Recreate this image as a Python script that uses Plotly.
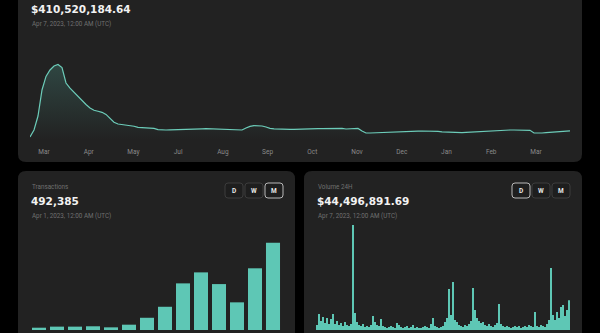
import plotly.graph_objects as go

W, H = 600, 333

# ---------------- data ----------------
tvl_header = "$410,520,184.64"
tvl_date = "Apr 7, 2023, 12:00 AM (UTC)"
tvl_month_labels = ["Mar", "Apr", "May", "Jul", "Aug", "Sep", "Oct", "Nov", "Dec", "Jan", "Feb", "Mar"]
tvl_values_musd = [
    135, 450, 1080, 2250, 2860, 3150, 3330, 3400, 3260, 2565,
    2330, 2140, 1935, 1755, 1600, 1440, 1340, 1295, 1245, 1150,
    975, 800, 720, 700, 675, 650, 620, 565, 555, 555,
    540, 520, 470, 450, 450, 455, 465, 475, 475, 480,
    485, 490, 495, 505, 510, 505, 495, 490, 485, 480,
    475, 465, 460, 450, 540, 615, 645, 640, 630, 585,
    525, 505, 490, 480, 480, 475, 480, 480, 485, 495,
    500, 505, 510, 515, 520, 520, 520, 525, 520, 495,
    495, 510, 520, 405, 315, 315, 325, 335, 340, 350,
    355, 360, 360, 370, 380, 385, 395, 400, 405, 405,
    405, 400, 385, 370, 360, 345, 340, 335, 330, 340,
    350, 360, 370, 380, 390, 405, 430, 445, 450, 450,
    450, 450, 450, 445, 440, 435, 315, 305, 315, 335,
    345, 360, 380, 395, 405, 410.5,
]

tx_title = "Transactions"
tx_header = "492,385"
tx_date = "Apr 1, 2023, 12:00 AM (UTC)"
tx_monthly = [13000, 19000, 19000, 21000, 15000, 30000, 69000,
              131000, 263000, 325000, 259000, 156000, 348000, 492385]

vol_title = "Volume 24H"
vol_header = "$44,496,891.69"
vol_date = "Apr 7, 2023, 12:00 AM (UTC)"
vol_musd = [
    7.5, 24, 13.5, 19.5, 10.5, 18, 9, 16.5, 24, 9,
    13.5, 7.5, 10.5, 6, 12, 7.5, 6, 9, 157.5, 25.5,
    12, 7.5, 6, 9, 4.5, 6, 4.5, 7.5, 21, 12,
    7.5, 6, 16.5, 6, 4.5, 3, 4.5, 6, 4.5, 3,
    10.5, 7.5, 4.5, 3, 4.5, 6, 3, 4.5, 7.5, 3,
    4.5, 3, 3, 4.5, 6, 4.5, 3, 9, 18, 6,
    4.5, 3, 4.5, 6, 12, 18, 61.5, 22.5, 72, 15,
    12, 7.5, 6, 4.5, 7.5, 6, 9, 13.5, 63, 30,
    18, 13.5, 10.5, 12, 7.5, 6, 9, 6, 4.5, 7.5,
    10.5, 39, 9, 6, 4.5, 6, 4.5, 3, 4.5, 6,
    4.5, 6, 3, 4.5, 6, 4.5, 7.5, 6, 4.5, 27,
    6, 4.5, 7.5, 6, 4.5, 9, 15, 93, 22.5, 15,
    27, 18, 34.5, 37.5, 21, 30, 44.5,
]
button_labels = ["D", "W", "M"]

# ---------------- helpers ----------------
def px(x):
    return x / W

def py(y):
    return 1 - y / H

def rrect(x0, y0, x1, y1, r):
    rx, ry = r, r
    pts = [
        f"M {px(x0 + rx)} {py(y0)}",
        f"L {px(x1 - rx)} {py(y0)}",
        f"Q {px(x1)} {py(y0)} {px(x1)} {py(y0 + ry)}",
        f"L {px(x1)} {py(y1 - ry)}",
        f"Q {px(x1)} {py(y1)} {px(x1 - rx)} {py(y1)}",
        f"L {px(x0 + rx)} {py(y1)}",
        f"Q {px(x0)} {py(y1)} {px(x0)} {py(y1 - ry)}",
        f"L {px(x0)} {py(y0 + ry)}",
        f"Q {px(x0)} {py(y0)} {px(x0 + rx)} {py(y0)}",
        "Z",
    ]
    return " ".join(pts)

TEAL = "#5ec7b5"
LINE = "#6cccb9"
PANEL = "#222222"
BG = "#000000"
GREY = "#707070"
FONT = "Roboto"
BOLD = "DejaVu Sans"

fig = go.Figure()

# TVL line
n = len(tvl_values_musd)
fig.add_trace(go.Scatter(
    x=list(range(n)), y=tvl_values_musd, mode="lines",
    line=dict(color=LINE, width=1.2),
    fill="tozeroy",
    fillgradient=dict(type="vertical",
                      colorscale=[[0, "rgba(94,199,181,0.0)"], [1, "rgba(94,199,181,0.22)"]]),
    xaxis="x", yaxis="y", hoverinfo="skip",
))

# Transactions bars
fig.add_trace(go.Bar(
    x=list(range(len(tx_monthly))), y=tx_monthly, marker=dict(color=TEAL, line=dict(width=0)),
    width=0.78, xaxis="x2", yaxis="y2", hoverinfo="skip",
))

# Volume bars
fig.add_trace(go.Bar(
    x=list(range(len(vol_musd))), y=vol_musd, marker=dict(color=TEAL, line=dict(width=0)),
    width=0.65, xaxis="x3", yaxis="y3", hoverinfo="skip",
))

step = 11.18
tickvals = [3.5 + k * step for k in range(len(tvl_month_labels))]

shapes = [
    dict(type="path", path=rrect(18, -20, 582, 162, 8), xref="paper", yref="paper",
         fillcolor=PANEL, line=dict(width=0), layer="below"),
    dict(type="path", path=rrect(18, 171, 295, 360, 8), xref="paper", yref="paper",
         fillcolor=PANEL, line=dict(width=0), layer="below"),
    dict(type="path", path=rrect(304, 171, 582, 360, 8), xref="paper", yref="paper",
         fillcolor=PANEL, line=dict(width=0), layer="below"),
]

annotations = []

def txt(x, y, s, size, color, family=FONT, weight="normal", xanchor="left"):
    annotations.append(dict(
        x=px(x), y=py(y), xref="paper", yref="paper", text=s, showarrow=False,
        xanchor=xanchor, yanchor="middle",
        font=dict(family=family, size=size, color=color, weight=weight),
    ))

# headers
txt(29, 9, tvl_header, 10.5, "#f2f2f2", BOLD, "bold")
txt(30, 24, tvl_date, 6.3, GREY)

txt(30, 186.5, tx_title, 6.3, GREY)
txt(29, 201, tx_header, 10.5, "#f2f2f2", BOLD, "bold")
txt(30, 215.5, tx_date, 6.3, GREY)

txt(316, 186.5, vol_title, 6.3, GREY)
txt(315, 201, vol_header, 10.5, "#f2f2f2", BOLD, "bold")
txt(316, 215.5, vol_date, 6.3, GREY)

# buttons
def buttons(x_start, active):
    for k, lab in enumerate(button_labels):
        x0 = x_start + k * 20
        x1 = x0 + 18
        is_act = (k == active)
        shapes.append(dict(type="path", path=rrect(x0, 183, x1, 198, 3), xref="paper", yref="paper",
                           fillcolor="#1e1e1e",
                           line=dict(width=1, color="#b8b8b8" if is_act else "#3c3c3c")))
        txt((x0 + x1) / 2, 190.5, lab, 6.5, "#e8e8e8", FONT, "bold", xanchor="center")

buttons(225, 2)
buttons(512, 0)

fig.update_layout(
    width=W, height=H,
    margin=dict(l=0, r=0, t=0, b=0),
    paper_bgcolor=BG, plot_bgcolor="rgba(0,0,0,0)",
    showlegend=False,
    shapes=shapes, annotations=annotations,
    xaxis=dict(domain=[px(30), px(570)], range=[0, n - 1], tickvals=tickvals, ticktext=tvl_month_labels,
               showgrid=False, zeroline=False, showline=False, ticks="",
               tickfont=dict(family=FONT, size=6.5, color="#8a8a8a"), ticklabelstandoff=6,
               fixedrange=True),
    yaxis=dict(domain=[py(140), py(40)], range=[0, 4500], visible=False, fixedrange=True),
    xaxis2=dict(domain=[px(30), px(282)], range=[-0.5, len(tx_monthly) - 0.5], visible=False,
                anchor="y2"),
    yaxis2=dict(domain=[py(330), py(230)], range=[0, 564000], visible=False, anchor="x2"),
    xaxis3=dict(domain=[px(316), px(570)], range=[-0.5, len(vol_musd) - 0.5], visible=False,
                anchor="y3"),
    yaxis3=dict(domain=[py(330), py(220)], range=[0, 165], visible=False, anchor="x3"),
)

fig.write_html("out.html", config={"displayModeBar": False})
